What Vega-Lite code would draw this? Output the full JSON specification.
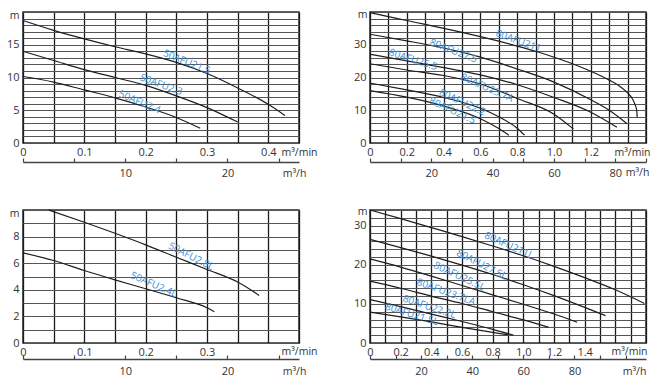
{
  "$schema": "https://vega.github.io/schema/vega-lite/v6.json",
  "background": "white",
  "padding": {"left": 5, "top": 5, "right": 5, "bottom": 5},
  "config": {
    "font": "Open Sans",
    "view": {"stroke": "#2a2a2a", "strokeWidth": 1.5},
    "axis": {"labelFont": "Open Sans", "labelFontSize": 11, "labelColor": "#333", "titleFont": "Open Sans", "titleFontSize": 10.5, "titleFontWeight": "normal", "titleColor": "#333", "labelOverlap": false, "labelFlush": false, "labelBound": false}
  },
  "columns": 2,
  "spacing": {"row": 67, "column": 71},
  "bounds": "flush",
  "datasets": {
    "c1": [
      {"s": "50AFU21.5", "q": 0, "h": 18.7}, {"s": "50AFU21.5", "q": 0.05, "h": 17.2}, {"s": "50AFU21.5", "q": 0.1, "h": 15.9}, {"s": "50AFU21.5", "q": 0.15, "h": 14.7}, {"s": "50AFU21.5", "q": 0.2, "h": 13.6}, {"s": "50AFU21.5", "q": 0.25, "h": 12.3}, {"s": "50AFU21.5", "q": 0.3, "h": 10.6}, {"s": "50AFU21.5", "q": 0.35, "h": 8.4}, {"s": "50AFU21.5", "q": 0.4, "h": 5.9}, {"s": "50AFU21.5", "q": 0.427, "h": 4.2},
      {"s": "50AFU2.3", "q": 0, "h": 14.0}, {"s": "50AFU2.3", "q": 0.05, "h": 12.6}, {"s": "50AFU2.3", "q": 0.1, "h": 11.2}, {"s": "50AFU2.3", "q": 0.15, "h": 10.0}, {"s": "50AFU2.3", "q": 0.2, "h": 8.8}, {"s": "50AFU2.3", "q": 0.25, "h": 7.2}, {"s": "50AFU2.3", "q": 0.3, "h": 5.4}, {"s": "50AFU2.3", "q": 0.35, "h": 3.2},
      {"s": "50AFU2.4", "q": 0, "h": 10.15}, {"s": "50AFU2.4", "q": 0.05, "h": 9.3}, {"s": "50AFU2.4", "q": 0.1, "h": 8.1}, {"s": "50AFU2.4", "q": 0.15, "h": 6.9}, {"s": "50AFU2.4", "q": 0.2, "h": 5.5}, {"s": "50AFU2.4", "q": 0.25, "h": 3.9}, {"s": "50AFU2.4", "q": 0.289, "h": 2.25}
    ],
    "l1": [
      {"s": "50AFU21.5", "q": 0.267, "h": 12.35}, {"s": "50AFU2.3", "q": 0.225, "h": 8.88}, {"s": "50AFU2.4", "q": 0.19, "h": 6.22}
    ],
    "c2": [
      {"s": "80AFU211", "q": 0, "h": 39.8}, {"s": "80AFU211", "q": 0.1, "h": 38.6}, {"s": "80AFU211", "q": 0.2, "h": 37.4}, {"s": "80AFU211", "q": 0.3, "h": 36.2}, {"s": "80AFU211", "q": 0.4, "h": 35.0}, {"s": "80AFU211", "q": 0.5, "h": 33.8}, {"s": "80AFU211", "q": 0.6, "h": 32.5}, {"s": "80AFU211", "q": 0.7, "h": 31.1}, {"s": "80AFU211", "q": 0.8, "h": 29.6}, {"s": "80AFU211", "q": 0.9, "h": 28.0}, {"s": "80AFU211", "q": 1.0, "h": 26.2}, {"s": "80AFU211", "q": 1.1, "h": 24.2}, {"s": "80AFU211", "q": 1.2, "h": 21.9}, {"s": "80AFU211", "q": 1.3, "h": 19.2}, {"s": "80AFU211", "q": 1.36, "h": 17.2}, {"s": "80AFU211", "q": 1.4, "h": 15.3}, {"s": "80AFU211", "q": 1.425, "h": 13.6}, {"s": "80AFU211", "q": 1.44, "h": 11.8}, {"s": "80AFU211", "q": 1.45, "h": 9.8}, {"s": "80AFU211", "q": 1.452, "h": 7.8},
      {"s": "80AFU27.5", "q": 0, "h": 33.2}, {"s": "80AFU27.5", "q": 0.2, "h": 31.2}, {"s": "80AFU27.5", "q": 0.4, "h": 29.0}, {"s": "80AFU27.5", "q": 0.6, "h": 26.2}, {"s": "80AFU27.5", "q": 0.8, "h": 22.6}, {"s": "80AFU27.5", "q": 1.0, "h": 18.6}, {"s": "80AFU27.5", "q": 1.2, "h": 13.2}, {"s": "80AFU27.5", "q": 1.3, "h": 10.0}, {"s": "80AFU27.5", "q": 1.397, "h": 5.9},
      {"s": "80AFU25.5", "q": 0, "h": 27.1}, {"s": "80AFU25.5", "q": 0.2, "h": 25.1}, {"s": "80AFU25.5", "q": 0.4, "h": 23.0}, {"s": "80AFU25.5", "q": 0.6, "h": 20.8}, {"s": "80AFU25.5", "q": 0.8, "h": 17.8}, {"s": "80AFU25.5", "q": 1.0, "h": 13.9}, {"s": "80AFU25.5", "q": 1.2, "h": 9.4}, {"s": "80AFU25.5", "q": 1.342, "h": 4.8},
      {"s": "80AFU23.7A", "q": 0, "h": 24.2}, {"s": "80AFU23.7A", "q": 0.2, "h": 22.3}, {"s": "80AFU23.7A", "q": 0.4, "h": 20.6}, {"s": "80AFU23.7A", "q": 0.6, "h": 18.0}, {"s": "80AFU23.7A", "q": 0.8, "h": 13.6}, {"s": "80AFU23.7A", "q": 1.0, "h": 8.8}, {"s": "80AFU23.7A", "q": 1.105, "h": 4.3},
      {"s": "80AFU22.2", "q": 0, "h": 18.3}, {"s": "80AFU22.2", "q": 0.2, "h": 16.2}, {"s": "80AFU22.2", "q": 0.4, "h": 13.9}, {"s": "80AFU22.2", "q": 0.6, "h": 10.6}, {"s": "80AFU22.2", "q": 0.7, "h": 8.0}, {"s": "80AFU22.2", "q": 0.8, "h": 4.5}, {"s": "80AFU22.2", "q": 0.84, "h": 2.4},
      {"s": "80AFU21.5", "q": 0, "h": 16.0}, {"s": "80AFU21.5", "q": 0.2, "h": 14.0}, {"s": "80AFU21.5", "q": 0.4, "h": 11.3}, {"s": "80AFU21.5", "q": 0.6, "h": 7.4}, {"s": "80AFU21.5", "q": 0.7, "h": 4.4}, {"s": "80AFU21.5", "q": 0.755, "h": 2.4}
    ],
    "l2": [
      {"s": "80AFU211", "q": 0.807, "h": 31.1}, {"s": "80AFU27.5", "q": 0.453, "h": 28.1}, {"s": "80AFU25.5", "q": 0.234, "h": 25.4}, {"s": "80AFU23.7A", "q": 0.636, "h": 16.8}, {"s": "80AFU22.2", "q": 0.502, "h": 12.4}, {"s": "80AFU21.5", "q": 0.447, "h": 9.9}
    ],
    "c3": [
      {"s": "50AFU2.8L", "q": 0.042, "h": 10.0}, {"s": "50AFU2.8L", "q": 0.1, "h": 9.08}, {"s": "50AFU2.8L", "q": 0.15, "h": 8.25}, {"s": "50AFU2.8L", "q": 0.2, "h": 7.38}, {"s": "50AFU2.8L", "q": 0.25, "h": 6.45}, {"s": "50AFU2.8L", "q": 0.3, "h": 5.53}, {"s": "50AFU2.8L", "q": 0.35, "h": 4.58}, {"s": "50AFU2.8L", "q": 0.385, "h": 3.58},
      {"s": "50AFU2.4L", "q": 0, "h": 6.78}, {"s": "50AFU2.4L", "q": 0.05, "h": 6.2}, {"s": "50AFU2.4L", "q": 0.1, "h": 5.45}, {"s": "50AFU2.4L", "q": 0.15, "h": 4.75}, {"s": "50AFU2.4L", "q": 0.2, "h": 4.08}, {"s": "50AFU2.4L", "q": 0.25, "h": 3.4}, {"s": "50AFU2.4L", "q": 0.3, "h": 2.65}, {"s": "50AFU2.4L", "q": 0.312, "h": 2.35}
    ],
    "l3": [
      {"s": "50AFU2.8L", "q": 0.274, "h": 6.5}, {"s": "50AFU2.4L", "q": 0.213, "h": 4.38}
    ],
    "c4": [
      {"s": "80AFU211L", "q": 0, "h": 34.0}, {"s": "80AFU211L", "q": 0.2, "h": 31.8}, {"s": "80AFU211L", "q": 0.4, "h": 29.5}, {"s": "80AFU211L", "q": 0.6, "h": 27.2}, {"s": "80AFU211L", "q": 0.8, "h": 24.8}, {"s": "80AFU211L", "q": 1.0, "h": 22.3}, {"s": "80AFU211L", "q": 1.2, "h": 19.6}, {"s": "80AFU211L", "q": 1.4, "h": 16.7}, {"s": "80AFU211L", "q": 1.6, "h": 13.6}, {"s": "80AFU211L", "q": 1.79, "h": 10.1},
      {"s": "80AFU27.5L", "q": 0, "h": 26.5}, {"s": "80AFU27.5L", "q": 0.2, "h": 24.4}, {"s": "80AFU27.5L", "q": 0.4, "h": 22.2}, {"s": "80AFU27.5L", "q": 0.6, "h": 19.9}, {"s": "80AFU27.5L", "q": 0.8, "h": 17.5}, {"s": "80AFU27.5L", "q": 1.0, "h": 14.9}, {"s": "80AFU27.5L", "q": 1.2, "h": 12.1}, {"s": "80AFU27.5L", "q": 1.4, "h": 9.1}, {"s": "80AFU27.5L", "q": 1.536, "h": 7.0},
      {"s": "80AFU25.5L", "q": 0, "h": 21.5}, {"s": "80AFU25.5L", "q": 0.2, "h": 19.4}, {"s": "80AFU25.5L", "q": 0.4, "h": 17.1}, {"s": "80AFU25.5L", "q": 0.6, "h": 14.7}, {"s": "80AFU25.5L", "q": 0.8, "h": 12.3}, {"s": "80AFU25.5L", "q": 1.0, "h": 9.9}, {"s": "80AFU25.5L", "q": 1.2, "h": 7.4}, {"s": "80AFU25.5L", "q": 1.351, "h": 5.3},
      {"s": "80AFU23.7LA", "q": 0, "h": 15.8}, {"s": "80AFU23.7LA", "q": 0.2, "h": 14.0}, {"s": "80AFU23.7LA", "q": 0.4, "h": 12.0}, {"s": "80AFU23.7LA", "q": 0.6, "h": 10.1}, {"s": "80AFU23.7LA", "q": 0.8, "h": 8.0}, {"s": "80AFU23.7LA", "q": 1.0, "h": 5.9}, {"s": "80AFU23.7LA", "q": 1.166, "h": 4.0},
      {"s": "80AFU22.2L", "q": 0, "h": 11.1}, {"s": "80AFU22.2L", "q": 0.2, "h": 9.3}, {"s": "80AFU22.2L", "q": 0.4, "h": 7.4}, {"s": "80AFU22.2L", "q": 0.6, "h": 5.5}, {"s": "80AFU22.2L", "q": 0.8, "h": 3.5}, {"s": "80AFU22.2L", "q": 0.935, "h": 2.0},
      {"s": "80AFU21.5L", "q": 0, "h": 7.9}, {"s": "80AFU21.5L", "q": 0.2, "h": 6.7}, {"s": "80AFU21.5L", "q": 0.4, "h": 5.4}, {"s": "80AFU21.5L", "q": 0.6, "h": 4.0}, {"s": "80AFU21.5L", "q": 0.8, "h": 2.7}, {"s": "80AFU21.5L", "q": 0.9, "h": 2.1}
    ],
    "l4": [
      {"s": "80AFU211L", "q": 0.907, "h": 24.9}, {"s": "80AFU27.5L", "q": 0.728, "h": 20.0}, {"s": "80AFU25.5L", "q": 0.583, "h": 17.0}, {"s": "80AFU23.7LA", "q": 0.496, "h": 13.0}, {"s": "80AFU22.2L", "q": 0.387, "h": 9.2}, {"s": "80AFU21.5L", "q": 0.272, "h": 7.3}
    ]
  },
  "concat": [
    {
      "width": 276, "height": 131,
      "resolve": {"scale": {"x": "independent"}},
      "layer": [
        {
          "encoding": {
            "x": {"field": "q", "type": "quantitative", "scale": {"domain": [0, 0.45], "nice": false, "zero": false},
              "axis": {"values": [0, 0.05, 0.1, 0.15, 0.2, 0.25, 0.3, 0.35, 0.4, 0.45],
                "labelExpr": "datum.value == 0 ? '0' : (abs(datum.value*10 - round(datum.value*10)) < 0.001 && datum.value < 0.42 ? format(datum.value, '.1f') : '')",
                "grid": true, "gridColor": "#1a1a1a", "gridWidth": 1.3, "domain": false, "ticks": false, "labelPadding": 3,
                "title": "m³/min", "titleX": 276, "titleY": 9, "titleAlign": "center", "titleBaseline": "middle"}},
            "y": {"field": "h", "type": "quantitative", "scale": {"domain": [0, 20], "nice": false},
              "axis": {"values": [0,1,2,3,4,5,6,7,8,9,10,11,12,13,14,15,16,17,18,19,20],
                "labelExpr": "datum.value % 5 == 0 && datum.value < 20 ? datum.label : ''",
                "grid": true, "gridColor": "#555", "gridWidth": 1, "domain": false, "ticks": false, "labelPadding": 4,
                "title": "m", "titleAngle": 0, "titleX": -9, "titleY": 3, "titleAlign": "center", "titleBaseline": "middle"}}
          },
          "layer": [
            {"data": {"name": "c1"}, "mark": {"type": "line", "color": "#1e1e1e", "strokeWidth": 1.2, "interpolate": "monotone"}, "encoding": {"detail": {"field": "s"}}},
            {"data": {"name": "l1"}, "transform": [{"filter": "datum.s == '50AFU21.5'"}], "mark": {"type": "text", "angle": 22, "color": "#3a8ed6", "fontSize": 10}, "encoding": {"text": {"field": "s"}}},
            {"data": {"name": "l1"}, "transform": [{"filter": "datum.s == '50AFU2.3'"}], "mark": {"type": "text", "angle": 20, "color": "#3a8ed6", "fontSize": 10}, "encoding": {"text": {"field": "s"}}},
            {"data": {"name": "l1"}, "transform": [{"filter": "datum.s == '50AFU2.4'"}], "mark": {"type": "text", "angle": 23, "color": "#3a8ed6", "fontSize": 10}, "encoding": {"text": {"field": "s"}}}
          ]
        },
        {
          "data": {"values": [{"qh": 0}]},
          "mark": {"type": "point", "opacity": 0},
          "encoding": {"x": {"field": "qh", "type": "quantitative", "scale": {"domain": [0, 27], "nice": false, "zero": false},
            "axis": {"orient": "bottom", "offset": 19, "values": [0, 5, 10, 15, 20, 25],
              "labelExpr": "datum.value == 10 || datum.value == 20 ? datum.label : ''",
              "grid": false, "domain": true, "domainColor": "#444", "domainWidth": 1.3, "ticks": true, "tickSize": -4, "tickColor": "#444", "tickWidth": 1.2, "labelPadding": 9,
              "title": "m³/h", "titleX": 271, "titleY": 11, "titleAlign": "center", "titleBaseline": "middle"}}}
        }
      ]
    },
    {
      "width": 276, "height": 131,
      "resolve": {"scale": {"x": "independent"}},
      "layer": [
        {
          "encoding": {
            "x": {"field": "q", "type": "quantitative", "scale": {"domain": [0, 1.5], "nice": false, "zero": false},
              "axis": {"values": [0, 0.1, 0.2, 0.3, 0.4, 0.5, 0.6, 0.7, 0.8, 0.9, 1.0, 1.1, 1.2, 1.3, 1.4, 1.5],
                "labelExpr": "datum.value == 0 ? '0' : (round(datum.value*10) % 2 == 0 && datum.value < 1.3 ? format(datum.value, '.1f') : '')",
                "grid": true, "gridColor": "#1a1a1a", "gridWidth": 1.3, "domain": false, "ticks": false, "labelPadding": 3,
                "title": "m³/min", "titleX": 262, "titleY": 9, "titleAlign": "center", "titleBaseline": "middle"}},
            "y": {"field": "h", "type": "quantitative", "scale": {"domain": [0, 40], "nice": false},
              "axis": {"values": [0,2,4,6,8,10,12,14,16,18,20,22,24,26,28,30,32,34,36,38,40],
                "labelExpr": "datum.value % 10 == 0 && datum.value < 40 ? datum.label : ''",
                "grid": true, "gridColor": "#555", "gridWidth": 1, "domain": false, "ticks": false, "labelPadding": 4,
                "title": "m", "titleAngle": 0, "titleX": -8, "titleY": 2, "titleAlign": "center", "titleBaseline": "middle"}}
          },
          "layer": [
            {"data": {"name": "c2"}, "mark": {"type": "line", "color": "#1e1e1e", "strokeWidth": 1.2, "interpolate": "monotone"}, "encoding": {"detail": {"field": "s"}}},
            {"data": {"name": "l2"}, "transform": [{"filter": "datum.s == '80AFU211'"}], "mark": {"type": "text", "angle": 20, "color": "#3a8ed6", "fontSize": 10}, "encoding": {"text": {"field": "s"}}},
            {"data": {"name": "l2"}, "transform": [{"filter": "datum.s == '80AFU27.5'"}], "mark": {"type": "text", "angle": 21, "color": "#3a8ed6", "fontSize": 10}, "encoding": {"text": {"field": "s"}}},
            {"data": {"name": "l2"}, "transform": [{"filter": "datum.s == '80AFU25.5'"}], "mark": {"type": "text", "angle": 18, "color": "#3a8ed6", "fontSize": 10}, "encoding": {"text": {"field": "s"}}},
            {"data": {"name": "l2"}, "transform": [{"filter": "datum.s == '80AFU23.7A'"}], "mark": {"type": "text", "angle": 24, "color": "#3a8ed6", "fontSize": 10}, "encoding": {"text": {"field": "s"}}},
            {"data": {"name": "l2"}, "transform": [{"filter": "datum.s == '80AFU22.2'"}], "mark": {"type": "text", "angle": 25, "color": "#3a8ed6", "fontSize": 10}, "encoding": {"text": {"field": "s"}}},
            {"data": {"name": "l2"}, "transform": [{"filter": "datum.s == '80AFU21.5'"}], "mark": {"type": "text", "angle": 25, "color": "#3a8ed6", "fontSize": 10}, "encoding": {"text": {"field": "s"}}}
          ]
        },
        {
          "data": {"values": [{"qh": 0}]},
          "mark": {"type": "point", "opacity": 0},
          "encoding": {"x": {"field": "qh", "type": "quantitative", "scale": {"domain": [0, 90], "nice": false, "zero": false},
            "axis": {"orient": "bottom", "offset": 19, "values": [0, 10, 20, 30, 40, 50, 60, 70, 80, 90],
              "labelExpr": "datum.value % 20 == 0 && datum.value > 0 ? datum.label : ''",
              "grid": false, "domain": true, "domainColor": "#444", "domainWidth": 1.3, "ticks": true, "tickSize": -4, "tickColor": "#444", "tickWidth": 1.2, "labelPadding": 9,
              "title": "m³/h", "titleX": 267, "titleY": 10, "titleAlign": "center", "titleBaseline": "middle"}}}
        }
      ]
    },
    {
      "width": 276, "height": 133,
      "resolve": {"scale": {"x": "independent"}},
      "layer": [
        {
          "encoding": {
            "x": {"field": "q", "type": "quantitative", "scale": {"domain": [0, 0.45], "nice": false, "zero": false},
              "axis": {"values": [0, 0.05, 0.1, 0.15, 0.2, 0.25, 0.3, 0.35, 0.4, 0.45],
                "labelExpr": "datum.value == 0 ? '0' : (abs(datum.value*10 - round(datum.value*10)) < 0.001 && datum.value < 0.35 ? format(datum.value, '.1f') : '')",
                "grid": true, "gridColor": "#1a1a1a", "gridWidth": 1.3, "domain": false, "ticks": false, "labelPadding": 3,
                "title": "m³/min", "titleX": 276, "titleY": 8.5, "titleAlign": "center", "titleBaseline": "middle"}},
            "y": {"field": "h", "type": "quantitative", "scale": {"domain": [0, 10], "nice": false},
              "axis": {"values": [0,1,2,3,4,5,6,7,8,9,10],
                "labelExpr": "datum.value % 2 == 0 && datum.value < 10 ? datum.label : ''",
                "grid": true, "gridColor": "#555", "gridWidth": 1, "domain": false, "ticks": false, "labelPadding": 4,
                "title": "m", "titleAngle": 0, "titleX": -9, "titleY": 3, "titleAlign": "center", "titleBaseline": "middle"}}
          },
          "layer": [
            {"data": {"name": "c3"}, "mark": {"type": "line", "color": "#1e1e1e", "strokeWidth": 1.2, "interpolate": "monotone"}, "encoding": {"detail": {"field": "s"}}},
            {"data": {"name": "l3"}, "transform": [{"filter": "datum.s == '50AFU2.8L'"}], "mark": {"type": "text", "angle": 27, "color": "#3a8ed6", "fontSize": 10}, "encoding": {"text": {"field": "s"}}},
            {"data": {"name": "l3"}, "transform": [{"filter": "datum.s == '50AFU2.4L'"}], "mark": {"type": "text", "angle": 23, "color": "#3a8ed6", "fontSize": 10}, "encoding": {"text": {"field": "s"}}}
          ]
        },
        {
          "data": {"values": [{"qh": 0}]},
          "mark": {"type": "point", "opacity": 0},
          "encoding": {"x": {"field": "qh", "type": "quantitative", "scale": {"domain": [0, 27], "nice": false, "zero": false},
            "axis": {"orient": "bottom", "offset": 16, "values": [0, 5, 10, 15, 20, 25],
              "labelExpr": "datum.value == 10 || datum.value == 20 ? datum.label : ''",
              "grid": false, "domain": true, "domainColor": "#444", "domainWidth": 1.3, "ticks": true, "tickSize": -4, "tickColor": "#444", "tickWidth": 1.2, "labelPadding": 10,
              "title": "m³/h", "titleX": 271, "titleY": 12, "titleAlign": "center", "titleBaseline": "middle"}}}
        }
      ]
    },
    {
      "width": 276, "height": 133,
      "resolve": {"scale": {"x": "independent"}},
      "layer": [
        {
          "encoding": {
            "x": {"field": "q", "type": "quantitative", "scale": {"domain": [0, 1.8], "nice": false, "zero": false},
              "axis": {"values": [0, 0.1, 0.2, 0.3, 0.4, 0.5, 0.6, 0.7, 0.8, 0.9, 1.0, 1.1, 1.2, 1.3, 1.4, 1.5, 1.6, 1.7, 1.8],
                "labelExpr": "datum.value == 0 ? '0' : (round(datum.value*10) % 2 == 0 && datum.value < 1.5 ? format(datum.value, '.1f') : '')",
                "grid": true, "gridColor": "#1a1a1a", "gridWidth": 1.3, "domain": false, "ticks": false, "labelPadding": 3,
                "title": "m³/min", "titleX": 259, "titleY": 8.5, "titleAlign": "center", "titleBaseline": "middle"}},
            "y": {"field": "h", "type": "quantitative", "scale": {"domain": [0, 34], "nice": false},
              "axis": {"values": [0,2,4,6,8,10,12,14,16,18,20,22,24,26,28,30,32,34],
                "labelExpr": "datum.value % 10 == 0 && datum.value < 34 ? datum.label : ''",
                "grid": true, "gridColor": "#555", "gridWidth": 1, "domain": false, "ticks": false, "labelPadding": 4,
                "title": "m", "titleAngle": 0, "titleX": -8, "titleY": 1, "titleAlign": "center", "titleBaseline": "middle"}}
          },
          "layer": [
            {"data": {"name": "c4"}, "mark": {"type": "line", "color": "#1e1e1e", "strokeWidth": 1.2, "interpolate": "monotone"}, "encoding": {"detail": {"field": "s"}}},
            {"data": {"name": "l4"}, "transform": [{"filter": "datum.s == '80AFU211L'"}], "mark": {"type": "text", "angle": 24, "color": "#3a8ed6", "fontSize": 10}, "encoding": {"text": {"field": "s"}}},
            {"data": {"name": "l4"}, "transform": [{"filter": "datum.s == '80AFU27.5L'"}], "mark": {"type": "text", "angle": 27, "color": "#3a8ed6", "fontSize": 10}, "encoding": {"text": {"field": "s"}}},
            {"data": {"name": "l4"}, "transform": [{"filter": "datum.s == '80AFU25.5L'"}], "mark": {"type": "text", "angle": 25, "color": "#3a8ed6", "fontSize": 10}, "encoding": {"text": {"field": "s"}}},
            {"data": {"name": "l4"}, "transform": [{"filter": "datum.s == '80AFU23.7LA'"}], "mark": {"type": "text", "angle": 20, "color": "#3a8ed6", "fontSize": 10}, "encoding": {"text": {"field": "s"}}},
            {"data": {"name": "l4"}, "transform": [{"filter": "datum.s == '80AFU22.2L'"}], "mark": {"type": "text", "angle": 18, "color": "#3a8ed6", "fontSize": 10}, "encoding": {"text": {"field": "s"}}},
            {"data": {"name": "l4"}, "transform": [{"filter": "datum.s == '80AFU21.5L'"}], "mark": {"type": "text", "angle": 17, "color": "#3a8ed6", "fontSize": 10}, "encoding": {"text": {"field": "s"}}}
          ]
        },
        {
          "data": {"values": [{"qh": 0}]},
          "mark": {"type": "point", "opacity": 0},
          "encoding": {"x": {"field": "qh", "type": "quantitative", "scale": {"domain": [0, 108], "nice": false, "zero": false},
            "axis": {"orient": "bottom", "offset": 16, "values": [0, 10, 20, 30, 40, 50, 60, 70, 80, 90, 100],
              "labelExpr": "datum.value % 20 == 0 && datum.value > 0 && datum.value < 90 ? datum.label : ''",
              "grid": false, "domain": true, "domainColor": "#444", "domainWidth": 1.3, "ticks": true, "tickSize": -4, "tickColor": "#444", "tickWidth": 1.2, "labelPadding": 10,
              "title": "m³/h", "titleX": 264, "titleY": 12, "titleAlign": "center", "titleBaseline": "middle"}}}
        }
      ]
    }
  ]
}
